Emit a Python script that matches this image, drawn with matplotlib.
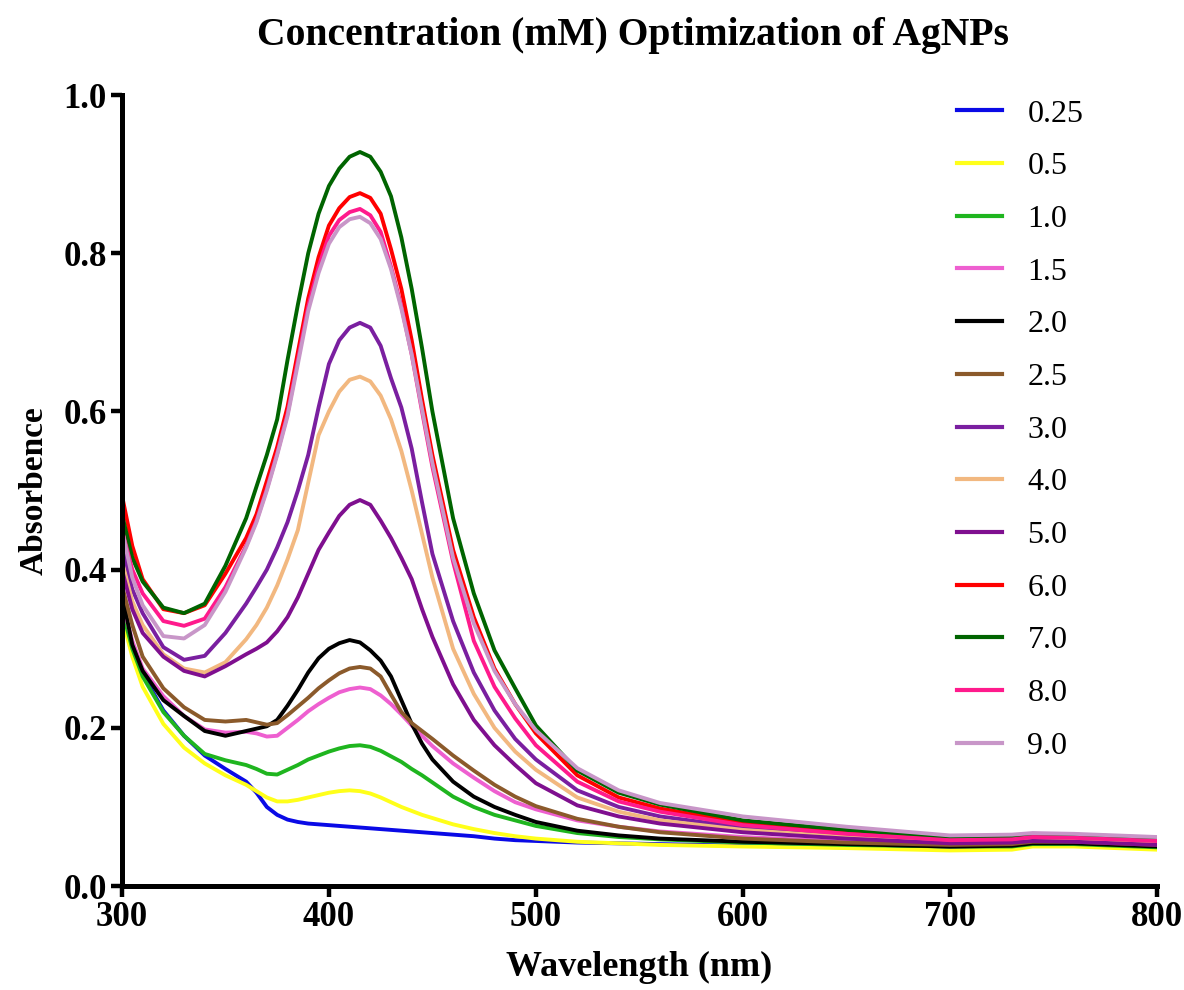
import numpy as np
import matplotlib
matplotlib.use("Agg")
from matplotlib import pyplot as plt

# wavelength grid (nm) shared by all spectra
wl = [300, 305, 310, 320, 330, 340, 350, 360, 365, 370, 375, 380, 385, 390, 395,
      400, 405, 410, 415, 420, 425, 430, 435, 440, 445, 450, 460, 470, 480, 490,
      500, 520, 540, 560, 600, 650, 700, 730, 740, 760, 800]

# absorbance, one list per AgNO3 concentration (mM)
a_025 = [0.355, 0.30, 0.268, 0.222, 0.19, 0.165, 0.148, 0.132, 0.118, 0.10, 0.09, 0.084, 0.081, 0.079, 0.078,
         0.077, 0.076, 0.075, 0.074, 0.073, 0.072, 0.071, 0.070, 0.069, 0.068, 0.067, 0.065, 0.063, 0.060, 0.058,
         0.057, 0.055, 0.054, 0.053, 0.051, 0.049, 0.048, 0.049, 0.053, 0.052, 0.049]
a_05 = [0.34, 0.29, 0.252, 0.205, 0.175, 0.155, 0.14, 0.128, 0.12, 0.112, 0.107, 0.107, 0.109, 0.112, 0.115,
        0.118, 0.12, 0.121, 0.12, 0.117, 0.112, 0.106, 0.10, 0.095, 0.09, 0.086, 0.078, 0.072, 0.067, 0.063,
        0.06, 0.056, 0.054, 0.052, 0.05, 0.048, 0.045, 0.046, 0.05, 0.05, 0.046]
a_10 = [0.35, 0.30, 0.265, 0.22, 0.19, 0.167, 0.159, 0.153, 0.148, 0.142, 0.141, 0.147, 0.153, 0.16, 0.165,
        0.17, 0.174, 0.177, 0.178, 0.176, 0.171, 0.164, 0.157, 0.148, 0.14, 0.131, 0.113, 0.10, 0.09, 0.083,
        0.076, 0.067, 0.062, 0.059, 0.055, 0.052, 0.05, 0.05, 0.053, 0.053, 0.049]
a_15 = [0.36, 0.31, 0.275, 0.24, 0.215, 0.198, 0.194, 0.195, 0.193, 0.189, 0.19, 0.20, 0.21, 0.221, 0.23,
        0.238, 0.245, 0.249, 0.251, 0.249, 0.241, 0.23, 0.217, 0.203, 0.19, 0.177, 0.155, 0.137, 0.12, 0.106,
        0.097, 0.083, 0.075, 0.069, 0.062, 0.056, 0.052, 0.053, 0.056, 0.055, 0.052]
a_20 = [0.37, 0.305, 0.272, 0.235, 0.215, 0.196, 0.19, 0.196, 0.199, 0.202, 0.21, 0.228, 0.248, 0.27, 0.288,
        0.30, 0.307, 0.311, 0.308, 0.298, 0.285, 0.265, 0.235, 0.205, 0.18, 0.16, 0.132, 0.113, 0.10, 0.09,
        0.081, 0.07, 0.064, 0.06, 0.056, 0.053, 0.05, 0.051, 0.054, 0.054, 0.05]
a_25 = [0.38, 0.33, 0.29, 0.25, 0.226, 0.21, 0.208, 0.21, 0.207, 0.204, 0.206, 0.216, 0.227, 0.238, 0.25,
        0.26, 0.269, 0.275, 0.277, 0.275, 0.265, 0.242, 0.22, 0.206, 0.196, 0.186, 0.165, 0.146, 0.128, 0.113,
        0.101, 0.085, 0.075, 0.068, 0.06, 0.055, 0.052, 0.053, 0.056, 0.056, 0.052]
a_30 = [0.43, 0.375, 0.345, 0.302, 0.286, 0.291, 0.32, 0.357, 0.378, 0.40, 0.428, 0.46, 0.50, 0.545, 0.605,
        0.66, 0.69, 0.706, 0.712, 0.706, 0.683, 0.642, 0.605, 0.553, 0.485, 0.42, 0.335, 0.27, 0.222, 0.186,
        0.16, 0.121, 0.10, 0.088, 0.074, 0.064, 0.056, 0.057, 0.06, 0.059, 0.055]
a_40 = [0.41, 0.36, 0.33, 0.293, 0.275, 0.27, 0.283, 0.312, 0.33, 0.352, 0.38, 0.413, 0.45, 0.51, 0.57,
        0.60, 0.625, 0.64, 0.644, 0.638, 0.62, 0.59, 0.55, 0.50, 0.445, 0.39, 0.30, 0.243, 0.20, 0.17,
        0.147, 0.112, 0.094, 0.083, 0.071, 0.062, 0.055, 0.056, 0.058, 0.057, 0.053]
a_50 = [0.40, 0.35, 0.32, 0.29, 0.272, 0.265, 0.278, 0.293, 0.30, 0.308, 0.322, 0.34, 0.365, 0.395, 0.425,
        0.447, 0.468, 0.482, 0.488, 0.482, 0.462, 0.44, 0.415, 0.388, 0.35, 0.315, 0.255, 0.21, 0.178, 0.153,
        0.13, 0.102, 0.088, 0.079, 0.068, 0.06, 0.054, 0.055, 0.057, 0.056, 0.052]
a_60 = [0.494, 0.43, 0.388, 0.35, 0.345, 0.355, 0.395, 0.44, 0.47, 0.512, 0.555, 0.606, 0.675, 0.743, 0.795,
        0.835, 0.857, 0.871, 0.876, 0.87, 0.85, 0.805, 0.755, 0.69, 0.615, 0.545, 0.425, 0.34, 0.275, 0.23,
        0.193, 0.14, 0.112, 0.098, 0.08, 0.068, 0.06, 0.061, 0.064, 0.063, 0.058]
a_70 = [0.47, 0.415, 0.385, 0.352, 0.345, 0.357, 0.405, 0.465, 0.505, 0.545, 0.59, 0.665, 0.735, 0.80, 0.85,
        0.885, 0.907, 0.922, 0.928, 0.922, 0.903, 0.872, 0.82, 0.755, 0.68, 0.60, 0.465, 0.37, 0.298, 0.25,
        0.203, 0.146, 0.118, 0.103, 0.083, 0.071, 0.062, 0.063, 0.066, 0.065, 0.061]
a_80 = [0.45, 0.40, 0.37, 0.335, 0.329, 0.338, 0.378, 0.43, 0.462, 0.502, 0.547, 0.597, 0.665, 0.733, 0.783,
        0.822, 0.842, 0.852, 0.856, 0.848, 0.827, 0.783, 0.733, 0.672, 0.60, 0.53, 0.41, 0.31, 0.252, 0.212,
        0.178, 0.132, 0.107, 0.094, 0.077, 0.066, 0.058, 0.059, 0.062, 0.061, 0.057]
a_90 = [0.45, 0.39, 0.355, 0.316, 0.313, 0.33, 0.372, 0.428, 0.46, 0.50, 0.545, 0.594, 0.66, 0.727, 0.775,
        0.812, 0.833, 0.843, 0.846, 0.838, 0.818, 0.78, 0.73, 0.672, 0.603, 0.535, 0.415, 0.332, 0.272, 0.23,
        0.197, 0.149, 0.121, 0.105, 0.088, 0.075, 0.064, 0.065, 0.067, 0.066, 0.062]

labels = ["0.25", "0.5", "1.0", "1.5", "2.0", "2.5", "3.0", "4.0", "5.0", "6.0", "7.0", "8.0", "9.0"]
spectra = [a_025, a_05, a_10, a_15, a_20, a_25, a_30, a_40, a_50, a_60, a_70, a_80, a_90]
colors = ["#0A0AE6", "#FFFF1A", "#1FB51F", "#EE5FD0", "#000000", "#8B5A2B", "#7A1FA0",
          "#F2B880", "#7F0F8F", "#FF0000", "#006400", "#FF1A8C", "#C896C8"]

plt.rcParams["font.family"] = ["Liberation Serif", "DejaVu Serif"]

fig = plt.figure(figsize=(11.84, 9.9), dpi=100)
ax = fig.add_axes([0.103, 0.105, 0.874, 0.799])

for lab, y, c in zip(labels, spectra, colors):
    ax.plot(wl, y, color=c, lw=2.8, label=lab)

ax.set_xlim(300, 800)
ax.set_ylim(0, 1.0)
ax.set_xticks([300, 400, 500, 600, 700, 800])
ax.set_yticks(np.arange(0, 1.01, 0.2))
ax.yaxis.set_major_formatter(matplotlib.ticker.FormatStrFormatter("%.1f"))

for side in ["top", "right"]:
    ax.spines[side].set_visible(False)
for side in ["left", "bottom"]:
    ax.spines[side].set_linewidth(3.6)
ax.tick_params(direction="out", length=8, width=3.2, labelsize=25, pad=3)
for t in ax.get_xticklabels() + ax.get_yticklabels():
    t.set_fontweight("bold")

ax.set_xlabel("Wavelength (nm)", fontsize=26, fontweight="bold", labelpad=12)
ax.set_ylabel("Absorbence", fontsize=24, fontweight="bold", labelpad=10)
fig.text(0.535, 1 - 35 / 990, "Concentration (mM) Optimization of AgNPs",
         ha="center", va="center", fontsize=28.5, fontweight="bold")

leg = ax.legend(loc="upper left", bbox_to_anchor=(0.779, 1.031), frameon=False,
                fontsize=23, handlelength=1.41, handletextpad=0.8, labelspacing=0.73)
for line in leg.get_lines():
    line.set_linewidth(3)

fig.savefig("out.png", dpi=100)
